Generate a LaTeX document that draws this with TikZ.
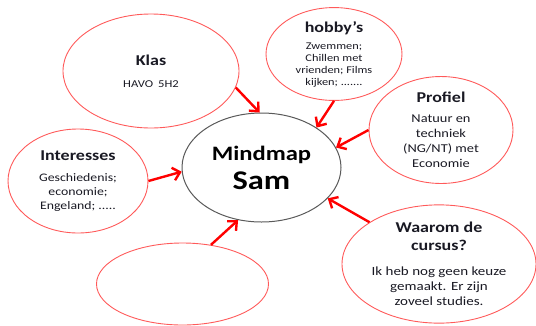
\documentclass[tikz,border=0pt]{standalone}
\usepackage{fontspec}
\setmainfont{Carlito}[FakeStretch=1.2]
\usetikzlibrary{shapes.geometric,arrows.meta}
\definecolor{bub}{RGB}{255,90,90}
\definecolor{arr}{RGB}{255,0,0}
\definecolor{txt}{RGB}{25,25,35}
\tikzset{
  bubble/.style={ellipse,draw=bub,line width=0.9pt,inner sep=0pt,align=center,text=txt},
  hub/.style={ellipse,draw=black!65,line width=1pt,inner sep=0pt,align=center},
  link/.style={draw=arr,line width=2.4pt,-{Straight Barb[length=7pt,width=13pt,line width=2.4pt]}}
}
\newcommand\ttlf{\bfseries\fontsize{15}{18}\selectfont}
\begin{document}
\begin{tikzpicture}[x=1pt,y=-1pt]
\useasboundingbox (0,0) rectangle (536,325);
\node[hub,minimum width=159pt,minimum height=109pt] (hub) at (261.5,167.5)
  {\bfseries\fontsize{20.5}{24}\selectfont Mindmap\\[7pt]\bfseries\fontsize{27}{29}\selectfont Sam};
\node[bubble,minimum width=176pt,minimum height=114pt,font=\fontsize{10.5}{13}\selectfont] (klas) at (151,71)
  {{\ttlf Klas}\\[9pt]HAVO\hspace{5pt}5H2};
\node[bubble,minimum width=136pt,minimum height=92pt,font=\fontsize{10.3}{12}\selectfont] (hobby) at (334,54)
  {{\ttlf hobby’s}\\[5pt]Zwemmen;\\Chillen met\\vrienden; Films\\kijken; .......};
\node[bubble,minimum width=144pt,minimum height=100pt,font=\fontsize{12}{15}\selectfont] (profiel) at (441,130)
  {{\ttlf Profiel}\\[5pt]Natuur en\\techniek\\(NG/NT) met\\Economie};
\node[bubble,minimum width=140pt,minimum height=104pt,font=\fontsize{11.5}{14}\selectfont] (inter) at (78,181)
  {{\ttlf Interesses}\\[7pt]Geschiedenis;\\economie;\\Engeland; .....};
\node[bubble,minimum width=172pt,minimum height=82pt] (empty) at (182.5,284) {};
\node[bubble,minimum width=194pt,minimum height=118pt,font=\fontsize{12.5}{15}\selectfont] (waarom) at (439,264)
  {{\ttlf Waarom de}\\[3pt]{\ttlf cursus?}\\[10pt]Ik heb nog geen keuze\\gemaakt. Er zijn\\zoveel studies.};
\draw[link] (klas.-11) -- (hub.92);
\draw[link] (hobby.-90) -- (hub.36);
\draw[link] (profiel.180) -- (hub.15);
\draw[link] (waarom.149) -- (hub.-25);
\draw[link] (inter.0) -- (hub.183);
\draw[link] (empty.54) -- (hub.246);
\end{tikzpicture}
\end{document}
